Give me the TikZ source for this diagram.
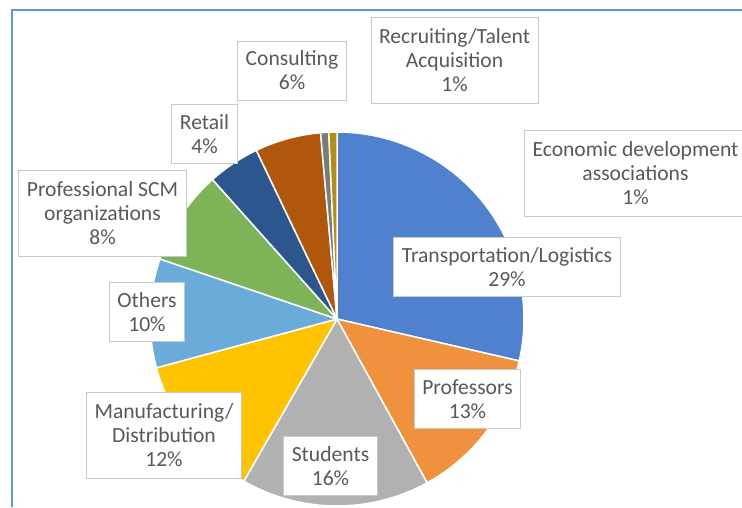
\documentclass[tikz,border=0pt]{standalone}
\usepackage{fontspec}
\setmainfont{Carlito}
\usepackage{tikz}

\definecolor{frameblue}{HTML}{5B9BD5}
\definecolor{txtgrey}{HTML}{595959}
\definecolor{boxgrey}{HTML}{C9C9C9}
\definecolor{cTrans}{HTML}{4F81CE}
\definecolor{cProf}{HTML}{F0923D}
\definecolor{cStud}{HTML}{B1B1B1}
\definecolor{cManu}{HTML}{FFC300}
\definecolor{cOthers}{HTML}{6AABD9}
\definecolor{cScm}{HTML}{7EB458}
\definecolor{cRetail}{HTML}{2D558E}
\definecolor{cConsult}{HTML}{B0570B}
\definecolor{cRecruit}{HTML}{7A7A7A}
\definecolor{cEcon}{HTML}{B48E12}

\tikzset{
	slice/.style={draw=white, line width=1.5pt, line join=round},
	lab/.style={draw=boxgrey, line width=0.9pt, fill=white, text=txtgrey, align=center,
		inner xsep=8pt, font=\fontsize{21.6}{24}\selectfont},
	lab2/.style={lab, minimum height=59pt},
	lab3/.style={lab, minimum height=86pt}
}

\begin{document}
\begin{tikzpicture}[x=1pt,y=1pt]
	\useasboundingbox (0,0) rectangle (742,507);
	% frame of the chart area
	\draw[frameblue, line width=2pt] (12,0) -- (12,497) -- (742,497);
	% pie, clockwise from the top
	\coordinate (ctr) at (337,188);
	\def\ang{90}
	\begin{scope}[shift={(ctr)}]
		\foreach \p/\c in {28.6/cTrans, 13.4/cProf, 16.3/cStud, 12.5/cManu, 9.4/cOthers,
				8.2/cScm, 4.5/cRetail, 5.7/cConsult, 0.7/cRecruit, 0.7/cEcon} {
			\pgfmathsetmacro\endang{\ang-3.6*\p}
			\fill[\c, slice] (0,0) -- (\ang:187pt) arc[start angle=\ang, end angle=\endang, radius=187pt] -- cycle;
			\xdef\ang{\endang}
		}
	\end{scope}
	% data labels
	\node[lab2] (consult) at (292,436.5) {Consulting\\6\%};
	\node[lab2] (retail) at (204.5,373) {Retail\\4\%};
	\node[lab3] (scm) at (102.5,293.5) {Professional SCM\\organizations\\8\%};
	\node[lab3] (recruit) at (454.5,447) {Recruiting/Talent\\Acquisition\\1\%};
	\node[lab3] (econ) at (635.5,334) {Economic development\\associations\\1\%};
	\node[lab2] (trans) at (507,240) {Transportation/Logistics\\29\%};
	\node[lab2] (prof) at (467.5,108) {Professors\\13\%};
	\node[lab2] (stud) at (330.5,41) {Students\\16\%};
	\node[lab3] (manu) at (164,72) {Manufacturing/\\Distribution\\12\%};
	\node[lab2] (others) at (147,195) {Others\\10\%};
\end{tikzpicture}
\end{document}
